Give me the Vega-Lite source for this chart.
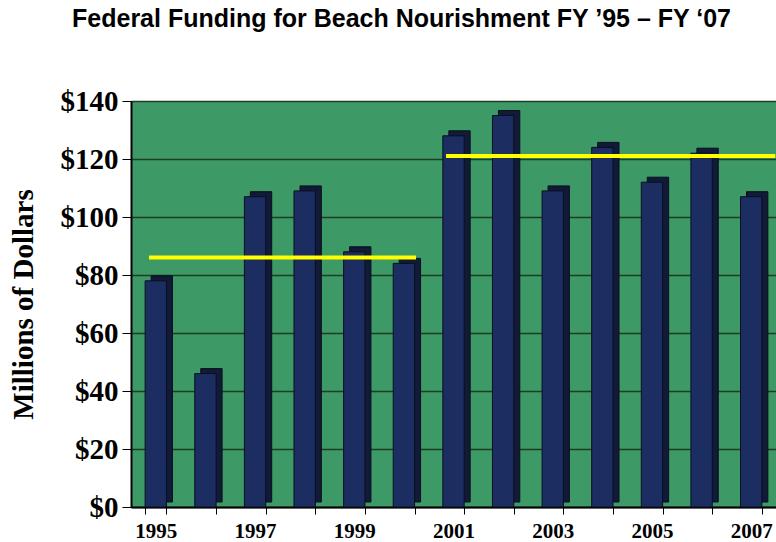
{
  "$schema": "https://vega.github.io/schema/vega-lite/v6.json",
  "autosize": {"type": "none"},
  "width": 645,
  "height": 406,
  "padding": {"left": 131, "top": 101, "right": 0, "bottom": 35},
  "background": "white",
  "title": {
    "text": "Federal Funding for Beach Nourishment FY ’95 – FY ‘07",
    "font": "Liberation Sans",
    "fontSize": 25,
    "fontWeight": "bold",
    "color": "black",
    "anchor": "middle",
    "frame": "group",
    "dx": -52,
    "offset": 55
  },
  "config": {
    "view": {"fill": "#3d9966", "stroke": "#d0d0d0", "strokeWidth": 1},
    "axis": {
      "labelFont": "Liberation Serif",
      "labelFontWeight": "bold",
      "labelColor": "black",
      "titleFont": "Liberation Serif",
      "titleFontWeight": "bold",
      "titleColor": "black",
      "domainColor": "black",
      "tickColor": "black"
    }
  },
  "datasets": {
    "funding": [
      {"year": "1995", "amount": 78},
      {"year": "1996", "amount": 46},
      {"year": "1997", "amount": 107},
      {"year": "1998", "amount": 109},
      {"year": "1999", "amount": 88},
      {"year": "2000", "amount": 84},
      {"year": "2001", "amount": 128},
      {"year": "2002", "amount": 135},
      {"year": "2003", "amount": 109},
      {"year": "2004", "amount": 124},
      {"year": "2005", "amount": 112},
      {"year": "2006", "amount": 122},
      {"year": "2007", "amount": 107}
    ],
    "avg1": [
      {"start": "1995", "end": "2000", "avg": 86}
    ],
    "avg2": [
      {"start": "2001", "end": "2007", "avg": 121}
    ]
  },
  "layer": [
    {
      "data": {"name": "funding"},
      "mark": {"type": "bar", "color": "#111a36", "xOffset": 6, "yOffset": -5, "stroke": "#0a0f20", "strokeWidth": 1},
      "encoding": {
        "x": {
          "field": "year",
          "type": "ordinal",
          "scale": {"paddingInner": 0.57, "paddingOuter": 0.285},
          "axis": {
            "title": null,
            "labelAngle": 0,
            "labelFontSize": 21,
            "labelPadding": 6,
            "tickBand": "extent",
            "tickSize": 7,
            "domainWidth": 2,
            "labelExpr": "toNumber(datum.value) % 2 == 1 ? datum.value : ''"
          }
        },
        "y": {
          "field": "amount",
          "type": "quantitative",
          "scale": {"domain": [0, 140]},
          "axis": {
            "values": [0, 20, 40, 60, 80, 100, 120, 140],
            "labelExpr": "'$' + datum.value",
            "labelFontSize": 29,
            "labelPadding": 4,
            "tickSize": 9,
            "domainWidth": 2,
            "gridColor": "#1d3d27",
            "gridWidth": 1.5,
            "title": "Millions of Dollars",
            "titleFontSize": 29,
            "titlePadding": 22
          }
        }
      }
    },
    {
      "data": {"name": "funding"},
      "mark": {"type": "bar", "color": "#1c2d62", "stroke": "#0a0f20", "strokeWidth": 1},
      "encoding": {
        "x": {"field": "year", "type": "ordinal"},
        "y": {"field": "amount", "type": "quantitative"}
      }
    },
    {
      "data": {"name": "avg1"},
      "mark": {"type": "rule", "color": "#ffff00", "strokeWidth": 4},
      "encoding": {
        "x": {"field": "start", "type": "ordinal", "bandPosition": 0.18},
        "x2": {"field": "end", "bandPosition": 1.07},
        "y": {"field": "avg", "type": "quantitative"}
      }
    },
    {
      "data": {"name": "avg2"},
      "mark": {"type": "rule", "color": "#ffff00", "strokeWidth": 4},
      "encoding": {
        "x": {"field": "start", "type": "ordinal", "bandPosition": 0.15},
        "x2": {"field": "end", "bandPosition": 1.63},
        "y": {"field": "avg", "type": "quantitative"}
      }
    }
  ]
}
